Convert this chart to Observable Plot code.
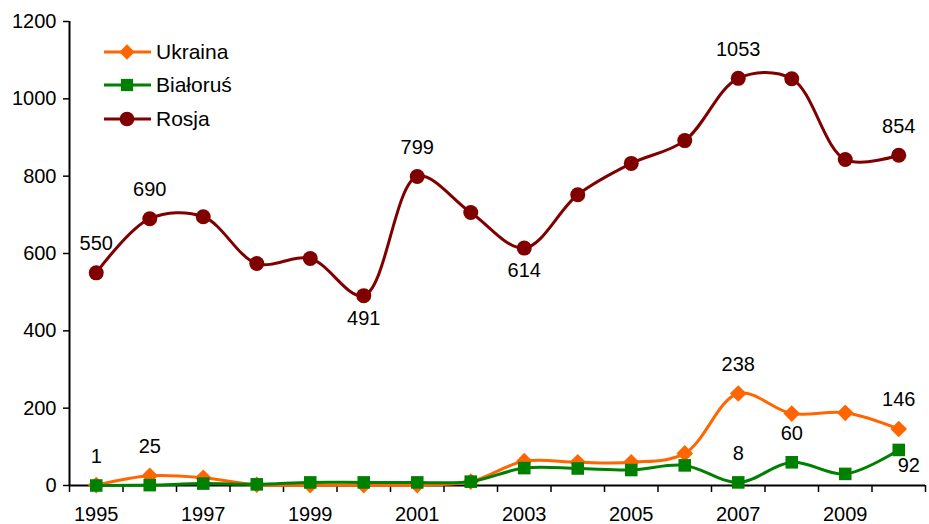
<!DOCTYPE html>
<html>
<head>
<meta charset="utf-8">
<script src="https://cdn.jsdelivr.net/npm/d3@7"></script>
<script src="https://cdn.jsdelivr.net/npm/@observablehq/plot@0.6"></script>
<style>
  html, body { margin: 0; padding: 0; background: #fff; }
  #wrap { position: relative; width: 929px; height: 524px; font-family: "Liberation Sans", Arial, sans-serif; }
  #legend { position: absolute; left: 102px; top: 35px; font-size: 21px; color: #000; }
  .row { display: flex; align-items: center; height: 33.5px; }
  .row span { margin-left: 4px; }
</style>
</head>
<body>
<div id="wrap"><div id="legend"></div></div>
<script>
const years = [1995,1996,1997,1998,1999,2000,2001,2002,2003,2004,2005,2006,2007,2008,2009,2010];
const seriesNames = ["Ukraina", "Białoruś", "Rosja"];
const ukraina  = [1, 25, 20, 2, 1, 1, 1, 10, 63, 60, 60, 83, 238, 186, 188, 146];
const bialorus = [0, 1, 5, 3, 8, 8, 8, 10, 45, 44, 40, 52, 8, 60, 30, 92];
const rosja    = [550, 690, 695, 574, 587, 491, 799, 706, 614, 752, 833, 892, 1053, 1052, 843, 854];
const yTicks = [0, 200, 400, 600, 800, 1000, 1200];
const xTickLabels = [1995, 1997, 1999, 2001, 2003, 2005, 2007, 2009];
// labelled points: series, year
const labelsAbove = [["Rosja",1995],["Rosja",1996],["Rosja",2001],["Rosja",2007],["Rosja",2010],
                     ["Ukraina",1995],["Ukraina",1996],["Ukraina",2007],["Ukraina",2010],
                     ["Białoruś",2007],["Białoruś",2008]];
const labelsBelow = [["Rosja",2000],["Rosja",2003]];
const labelsBelowRight = [["Białoruś",2010]];

const colors = {"Ukraina": "#FF6600", "Białoruś": "#008000", "Rosja": "#800000"};
const symbols = {"Ukraina": "diamond2", "Białoruś": "square2", "Rosja": "circle"};
const values = {"Ukraina": ukraina, "Białoruś": bialorus, "Rosja": rosja};

const rows = [];
for (const s of seriesNames) years.forEach((y, i) => rows.push({series: s, year: y, value: values[s][i]}));
const find = ([s, y]) => rows.find(r => r.series === s && r.year === y);
const above = labelsAbove.map(find), below = labelsBelow.map(find), belowRight = labelsBelowRight.map(find);

const drawOrder = ["Rosja", "Ukraina", "Białoruś"];
const marks = [];
const boundaries = d3.range(years[0] - 0.5, years[years.length - 1] + 1, 1);
marks.push(Plot.axisX(boundaries, {tickSize: 7, tickFormat: () => "", strokeWidth: 1.5, label: null}));
marks.push(Plot.axisX(xTickLabels, {tickSize: 0, tickPadding: 21, tickFormat: d => String(d), fontSize: 20, label: null}));
marks.push(Plot.axisY(yTicks, {tickSize: 6, tickPadding: 7, strokeWidth: 1.5, fontSize: 20, tickFormat: d => String(d), label: null}));
marks.push(Plot.ruleY([0], {stroke: "#000", strokeWidth: 2}));
marks.push(Plot.ruleX([years[0] - 0.5], {stroke: "#000", strokeWidth: 2}));
for (const s of drawOrder) {
  const data = rows.filter(r => r.series === s);
  marks.push(Plot.line(data, {x: "year", y: "value", stroke: colors[s], strokeWidth: 3, curve: "catmull-rom"}));
  const r = s === "Rosja" ? 7.5 : s === "Białoruś" ? 8 : 7.5;
  marks.push(Plot.dot(data, {x: "year", y: "value", fill: colors[s], stroke: "none", symbol: () => symbols[s], r}));
}
const tOpts = {x: "year", y: "value", text: d => String(d.value), fill: "#000", fontSize: 20};
marks.push(Plot.text(above, {...tOpts, dy: -29}));
marks.push(Plot.text(below, {...tOpts, dy: 23}));
marks.push(Plot.text(belowRight, {...tOpts, dy: 16, dx: 10}));

const chart = Plot.plot({
  width: 929, height: 524,
  marginLeft: 69, marginRight: 4, marginTop: 21, marginBottom: 39,
  style: {fontFamily: '"Liberation Sans", Arial, sans-serif', fontSize: "20px", color: "#000", background: "#fff"},
  x: {domain: [years[0] - 0.5, years[years.length - 1] + 0.5], axis: null},
  y: {domain: [0, 1200], axis: null},
  symbol: {type: "identity"},
  marks
});
document.getElementById("wrap").prepend(chart);

// legend
const legend = d3.select("#legend");
for (const s of seriesNames) {
  const row = legend.append("div").attr("class", "row");
  const sv = row.append("svg").attr("width", 50).attr("height", 20);
  sv.append("line").attr("x1", 2).attr("x2", 49).attr("y1", 10).attr("y2", 10).attr("stroke", colors[s]).attr("stroke-width", 3);
  const sym = {"Ukraina": d3.symbolDiamond2, "Białoruś": d3.symbolSquare2, "Rosja": d3.symbolCircle}[s];
  const size = s === "Ukraina" ? 150 : s === "Białoruś" ? 190 : 170;
  sv.append("path").attr("d", d3.symbol(sym, size)()).attr("transform", "translate(25,10)").attr("fill", colors[s]);
  row.append("span").text(s);
}
</script>
</body>
</html>
